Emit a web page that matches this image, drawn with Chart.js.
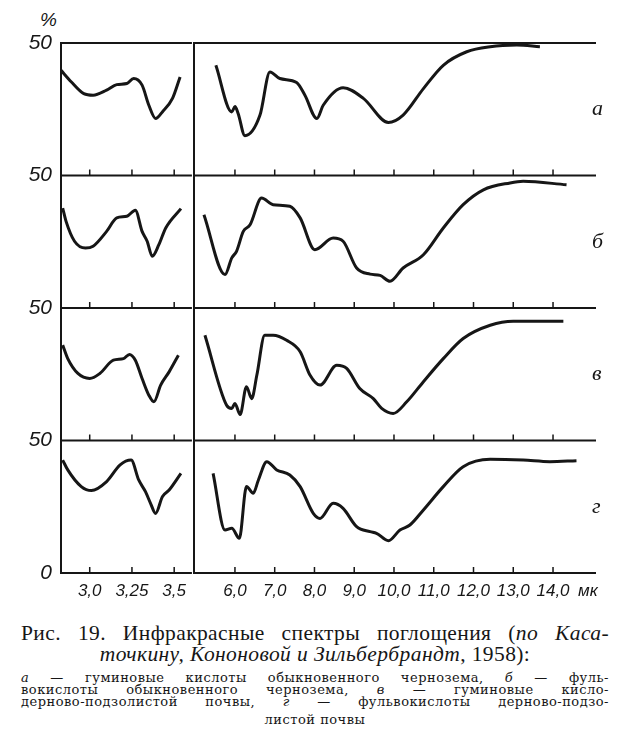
<!DOCTYPE html>
<html>
<head>
<meta charset="utf-8">
<script src="https://cdn.jsdelivr.net/npm/chart.js@4.4.1/dist/chart.umd.min.js"></script>
<style>
  body { margin: 0; background: #fff; }
  #wrap { position: relative; width: 620px; height: 745px; background: #fff; font-family: 'Liberation Serif', serif; color: #161616; overflow: hidden; }
  #left { position: absolute; left: 0; top: 0; }
  #right { position: absolute; left: 180px; top: 0; }
  .pct { position: absolute; left: 40px; top: 10px; font-family: 'Liberation Sans Narrow', sans-serif; font-style: italic; font-size: 19px; line-height: 20px; }
  .line { position: absolute; left: 21px; width: 588px; text-align: justify; text-align-last: justify; white-space: nowrap; }
  .big { font-size: 21.5px; line-height: 22px; letter-spacing: 0.4px; }
  .small { font-family: 'DejaVu Serif', serif; font-size: 13px; line-height: 14px; letter-spacing: 0.5px; }
  .center { text-align: center; text-align-last: center; }
</style>
</head>
<body>
<div id="wrap">
  <div class="pct">%</div>
  <canvas id="left" width="194" height="610"></canvas>
  <canvas id="right" width="440" height="610"></canvas>

  <div class="line big" style="top:622px">Рис. 19. Инфракрасные спектры поглощения (<i>по Каса-</i></div>
  <div class="line big center" style="top:643px"><i>точкину, Кононовой и Зильбербрандт</i>, 1958):</div>
  <div class="line small" style="top:671px"><i>а</i> — гуминовые кислоты обыкновенного чернозема, <i>б</i> — фуль-</div>
  <div class="line small" style="top:683px">вокислоты обыкновенного чернозема, <i>в</i> — гуминовые кисло-</div>
  <div class="line small" style="top:695px">дерново-подзолистой почвы, <i>г</i> — фульвокислоты дерново-подзо-</div>
  <div class="line small center" style="top:713px">листой почвы</div>
</div>

<script>
// wavelengths (мк) and transmission (% within each panel)
const aLeftWl = [2.83, 2.89, 2.965, 3.02, 3.10, 3.16, 3.22, 3.26, 3.31, 3.35, 3.39, 3.43, 3.49, 3.535];
const aLeftT  = [39.7, 35.4, 30.9, 30.3, 32.2, 34.3, 34.7, 36.6, 34.1, 26.5, 21.5, 24.0, 29.1, 37.2];
const aRightWl = [5.52, 5.92, 6.00, 6.08, 6.25, 6.63, 6.88, 7.13, 7.55, 7.76, 8.06, 8.22, 8.72, 9.23, 9.86, 10.23, 10.74, 11.24, 11.83, 12.42, 13.09, 13.67];
const aRightT  = [41.6, 24.0, 26.0, 23.4, 15.0, 22.8, 39.1, 36.6, 35.1, 30.3, 21.5, 26.5, 33.1, 29.1, 20.0, 22.8, 32.8, 41.6, 46.7, 48.6, 49.2, 48.6];

const bLeftWl = [2.84, 2.86, 2.91, 2.975, 3.02, 3.10, 3.16, 3.22, 3.27, 3.31, 3.34, 3.37, 3.41, 3.45, 3.54];
const bLeftT  = [37.7, 32.7, 25.2, 22.6, 23.3, 28.9, 34.0, 34.6, 36.9, 28.9, 25.2, 19.5, 24.0, 30.2, 37.5];
const bRightWl = [5.22, 5.75, 5.92, 6.04, 6.21, 6.38, 6.67, 6.96, 7.38, 7.64, 8.01, 8.47, 8.72, 9.06, 9.40, 9.65, 9.90, 10.23, 10.74, 11.24, 11.74, 12.25, 12.92, 13.25, 14.34];
const bRightT  = [35.2, 12.6, 18.9, 21.4, 28.9, 31.4, 41.5, 39.0, 38.4, 34.0, 22.0, 26.4, 25.2, 15.1, 12.8, 12.3, 10.1, 15.1, 20.1, 30.2, 39.0, 44.6, 47.2, 47.8, 46.5];

const vLeftWl = [2.84, 2.87, 2.93, 3.00, 3.06, 3.14, 3.20, 3.235, 3.27, 3.31, 3.35, 3.38, 3.42, 3.47, 3.525];
const vLeftT  = [36.0, 30.9, 25.3, 23.4, 25.3, 30.3, 30.9, 32.5, 30.3, 23.4, 17.1, 14.6, 20.9, 25.9, 32.2];
const vRightWl = [5.245, 5.79, 5.92, 6.00, 6.13, 6.29, 6.42, 6.55, 6.75, 6.96, 7.30, 7.64, 7.89, 8.14, 8.56, 8.81, 9.14, 9.48, 9.69, 9.98, 10.32, 10.74, 11.24, 11.74, 12.42, 13.00, 14.26];
const vRightT  = [39.7, 13.3, 12.1, 14.0, 9.8, 20.3, 15.8, 24.6, 39.7, 39.7, 37.8, 33.5, 24.6, 20.9, 28.4, 27.2, 19.6, 15.8, 12.1, 10.2, 14.6, 22.2, 30.9, 38.5, 43.5, 45.0, 45.0];

const gLeftWl = [2.84, 2.87, 2.95, 3.01, 3.10, 3.18, 3.245, 3.29, 3.33, 3.36, 3.39, 3.43, 3.47, 3.54];
const gLeftT  = [42.6, 38.9, 32.6, 31.1, 34.5, 40.8, 42.6, 35.1, 30.7, 26.3, 22.5, 28.8, 31.3, 37.6];
const gRightWl = [5.45, 5.75, 5.92, 6.11, 6.29, 6.46, 6.59, 6.80, 7.05, 7.38, 7.64, 7.97, 8.14, 8.47, 8.72, 9.06, 9.40, 9.56, 9.86, 10.15, 10.40, 10.74, 11.24, 11.74, 12.42, 13.25, 13.92, 14.59];
const gRightT  = [37.6, 16.2, 16.9, 13.1, 32.6, 30.1, 35.1, 42.0, 38.9, 37.0, 32.6, 22.5, 20.6, 26.3, 24.4, 17.5, 15.6, 15.0, 12.2, 16.2, 18.1, 23.8, 32.6, 40.1, 42.9, 42.6, 42.0, 42.4];

const panelLetters = ['а', 'б', 'в', 'г'];
const leftTicks = [3.0, 3.25, 3.5];
const rightTicks = [6, 7, 8, 9, 10, 11, 12, 13, 14];
const yTicks = [0, 50, 100, 150, 200];
const yTickLabels = ['0', '50', '50', '50', '50'];

const INK = '#161616';
const SERIF = "'Liberation Serif', serif";
const NARROW = "'Liberation Sans Narrow', sans-serif";
const panelBase = [150, 100, 50, 0]; // panels stacked from top to bottom

const leftSeries = [[aLeftWl, aLeftT], [bLeftWl, bLeftT], [vLeftWl, vLeftT], [gLeftWl, gLeftT]];
const rightSeries = [[aRightWl, aRightT], [bRightWl, bRightT], [vRightWl, vRightT], [gRightWl, gRightT]];

const toPoints = (wl, t, base) => wl.map((w, i) => ({ x: w, y: t[i] + base }));
const fmt = v => Number.isInteger(v) ? v + ',0' : String(v).replace('.', ',');

function makeDatasets(series) {
  return series.map(([wl, t], i) => ({
    data: toPoints(wl, t, panelBase[i]),
    borderColor: INK,
    borderWidth: 3,
    pointRadius: 0,
    cubicInterpolationMode: 'monotone',
    fill: false
  }));
}

// frame: dividers between panels, border lines and small inward tick marks
const framePlugin = {
  id: 'frame',
  beforeDatasetsDraw(chart, args, opts) {
    const { ctx, chartArea: a, scales: { x, y } } = chart;
    ctx.save();
    ctx.strokeStyle = INK;
    ctx.lineWidth = 2;
    ctx.beginPath();
    yTicks.forEach(v => {
      const py = y.getPixelForValue(v);
      ctx.moveTo(a.left, py);
      ctx.lineTo(a.right + (opts.extend || 0), py);
    });
    ctx.moveTo(a.left, y.getPixelForValue(200) - 1);
    ctx.lineTo(a.left, y.getPixelForValue(0) + 1);
    ctx.stroke();
    ctx.lineWidth = 1.5;
    ctx.beginPath();
    panelBase.forEach(v => {
      const py = y.getPixelForValue(v);
      opts.ticks.forEach(t => {
        const px = x.getPixelForValue(t);
        ctx.moveTo(px, py);
        ctx.lineTo(px, py - 6);
      });
    });
    ctx.stroke();
    if (opts.letters) {
      ctx.fillStyle = INK;
      ctx.font = 'italic 22px ' + SERIF;
      ctx.textBaseline = 'middle';
      ctx.textAlign = 'left';
      panelBase.forEach((v, i) => {
        ctx.fillText(panelLetters[i], a.right + 2, y.getPixelForValue(v + 25));
      });
      ctx.font = 'italic 17px ' + NARROW;
      ctx.fillText('мк', x.getPixelForValue(14) + 25, y.getPixelForValue(0) + 18);
    }
    ctx.restore();
  }
};

function makeOptions(xMin, xMax, ticks, showY, padding, frameOpts) {
  return {
    responsive: false,
    animation: false,
    layout: { padding },
    plugins: { legend: { display: false }, tooltip: { enabled: false }, frame: frameOpts },
    scales: {
      x: {
        type: 'linear', min: xMin, max: xMax,
        grid: { display: false, drawTicks: false },
        border: { display: false },
        afterBuildTicks: s => { s.ticks = ticks.map(v => ({ value: v })); },
        afterFit: s => { s.height = 37; },
        ticks: { callback: v => fmt(v), color: INK, padding: 8, maxRotation: 0, autoSkip: false,
                 font: { family: NARROW, style: 'italic', size: 17 } }
      },
      y: {
        display: showY, min: 0, max: 200,
        grid: { display: false, drawTicks: false },
        border: { display: false },
        afterBuildTicks: s => { s.ticks = yTicks.map(v => ({ value: v })); },
        afterFit: s => { s.width = showY ? 61 : 0; },
        ticks: { callback: (v, i) => yTickLabels[i], color: INK, padding: 9,
                 font: { family: NARROW, style: 'italic', size: 21 } }
      }
    }
  };
}

new Chart(document.getElementById('left'), {
  type: 'line',
  data: { datasets: makeDatasets(leftSeries) },
  options: makeOptions(2.83, 3.605, leftTicks, true, { top: 43, right: 0, left: 0, bottom: 0 },
                       { ticks: leftTicks }),
  plugins: [framePlugin]
});

new Chart(document.getElementById('right'), {
  type: 'line',
  data: { datasets: makeDatasets(rightSeries) },
  options: makeOptions(4.97, 14.93, rightTicks, false, { top: 43, right: 30, left: 14, bottom: 0 },
                       { ticks: rightTicks, letters: true, extend: 6 }),
  plugins: [framePlugin]
});
</script>
</body>
</html>
